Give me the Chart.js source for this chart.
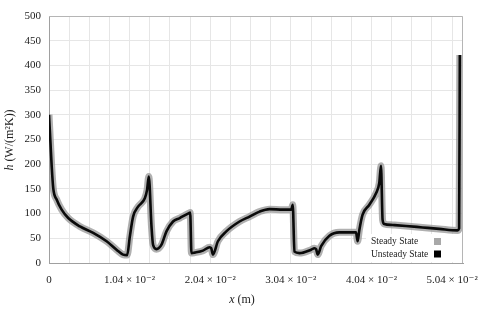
<!DOCTYPE html>
<html>
<head>
<meta charset="utf-8">
<script src="https://cdn.jsdelivr.net/npm/chart.js@4"></script>
<style>
  html, body { margin: 0; padding: 0; background: #fff; }
  #wrap { width: 480px; height: 313px; }
</style>
</head>
<body>
<div id="wrap"><canvas id="hChart" width="480" height="313"></canvas></div>
<script>
// x position along the wall (m)
const xPos = [
    0, 0.0002, 0.00035, 0.00055, 0.001, 0.00163, 0.00248, 0.00399, 0.0057, 0.00743,
    0.00871, 0.00956, 0.01008, 0.01043, 0.01085, 0.01149, 0.01236, 0.01265, 0.01287, 0.01322,
    0.01342, 0.01386, 0.01451, 0.01515, 0.016, 0.01686, 0.01806, 0.01821, 0.01837, 0.01879,
    0.01986, 0.02072, 0.02092, 0.02115, 0.02179, 0.02287, 0.02458, 0.02587, 0.02716, 0.02844,
    0.03016, 0.03124, 0.03144, 0.03166, 0.03231, 0.03381, 0.03424, 0.03445, 0.03466, 0.0351,
    0.03617, 0.03745, 0.0396, 0.03981, 0.04003, 0.04045, 0.04132, 0.04218, 0.0426, 0.04282,
    0.04303, 0.04325, 0.04432, 0.04604, 0.04818, 0.05033, 0.05268, 0.0529, 0.05299
];

// heat transfer coefficient h (W/(m2K))
const steadyH = [
    300, 240, 195, 151, 128, 108, 91, 74, 61, 44,
    27, 17, 16, 54, 94, 114, 131, 148, 175, 74,
    37, 28, 37, 64, 84, 91, 101, 102, 20, 21,
    25, 32, 30, 17, 44, 64, 84, 94, 104, 109,
    108, 108, 118, 23, 20, 27, 30, 28, 17, 34,
    55, 62, 62, 44, 67, 98, 118, 141, 162, 197,
    87, 79, 77, 75, 72, 69, 66, 70, 421
];
const unsteadyH = [
    300, 240, 195, 151, 128, 108, 91, 74, 61, 44,
    27, 17, 16, 54, 94, 114, 131, 148, 175, 74,
    37, 28, 37, 64, 84, 91, 101, 102, 20, 21,
    25, 32, 30, 17, 44, 64, 84, 94, 104, 109,
    108, 108, 118, 23, 20, 27, 30, 28, 17, 34,
    55, 62, 62, 44, 67, 98, 118, 141, 162, 197,
    87, 79, 77, 75, 72, 69, 66, 70, 421
];

const xTickLabels = ['0', '1.04 × 10⁻²', '2.04 × 10⁻²', '3.04 × 10⁻²', '4.04 × 10⁻²', '5.04 × 10⁻²'];
const xGridStep = 0.0026;   // one label on every 4th grid line
const xGridCount = 20;
const seriesNames = ['Steady State', 'Unsteady State'];

const serif = '"Liberation Serif", "DejaVu Serif", serif';

function toPoints(xs, ys) {
    return xs.map((x, i) => ({ x: x, y: ys[i] }));
}

// frame, axis titles and the legend box inside the plot
const extrasPlugin = {
    id: 'extras',
    afterDraw(chart) {
        const c = chart.ctx;
        const a = chart.chartArea;
        c.save();

        // top + right border
        c.strokeStyle = '#b5b5b5';
        c.lineWidth = 1;
        c.beginPath();
        c.moveTo(a.left, a.top + 0.5);
        c.lineTo(a.right - 0.5, a.top + 0.5);
        c.lineTo(a.right - 0.5, a.bottom);
        c.stroke();

        // legend
        c.fillStyle = '#fff';
        c.fillRect(366, 234, a.right - 367, a.bottom - 235);
        c.font = '9.5px ' + serif;
        c.textBaseline = 'middle';
        c.textAlign = 'left';
        const rows = [241.5, 254];
        const swatch = ['#a8a8a8', '#000'];
        chart.data.datasets.forEach((ds, i) => {
            c.fillStyle = '#222';
            c.fillText(ds.label, 371, rows[i]);
            c.fillStyle = swatch[i];
            c.fillRect(434, rows[i] - 3.5, 7, 7);
        });

        // x title: italic x + " (m)"
        c.fillStyle = '#222';
        c.font = 'italic 12px ' + serif;
        const xw = c.measureText('x').width;
        c.font = '12px ' + serif;
        const rw = c.measureText(' (m)').width;
        let sx = 242 - (xw + rw) / 2;
        c.font = 'italic 12px ' + serif;
        c.fillText('x', sx, 300);
        c.font = '12px ' + serif;
        c.fillText(' (m)', sx + xw, 300);

        // y title, rotated: italic h + " (W/(m²K))"
        c.translate(10, 140);
        c.rotate(-Math.PI / 2);
        c.font = 'italic 12px ' + serif;
        const hw = c.measureText('h').width;
        c.font = '12px ' + serif;
        const tw = c.measureText(' (W/(m²K))').width;
        sx = -(hw + tw) / 2;
        c.font = 'italic 12px ' + serif;
        c.fillText('h', sx, 0);
        c.font = '12px ' + serif;
        c.fillText(' (W/(m²K))', sx + hw, 0);

        c.restore();
    }
};

const ctx = document.getElementById('hChart').getContext('2d');
new Chart(ctx, {
    type: 'line',
    data: {
        datasets: [{
            label: seriesNames[0],
            data: toPoints(xPos, steadyH),
            borderColor: 'rgba(150, 150, 150, 0.75)',
            borderWidth: 7,
            pointRadius: 0,
            cubicInterpolationMode: 'monotone',
            order: 1
        }, {
            label: seriesNames[1],
            data: toPoints(xPos, unsteadyH),
            borderColor: '#0a0a0a',
            borderWidth: 2.6,
            pointRadius: 0,
            cubicInterpolationMode: 'monotone',
            order: 0
        }]
    },
    options: {
        responsive: false,
        animation: false,
        layout: { padding: { left: 0, right: 17, top: 16, bottom: 0 } },
        plugins: {
            legend: { display: false },
            tooltip: { enabled: false }
        },
        scales: {
            x: {
                type: 'linear',
                min: 0,
                max: 0.0534,
                afterFit: (scale) => {
                    scale.height = 50;
                    scale.paddingLeft = 0;
                    scale.paddingRight = 0;
                },
                afterBuildTicks: (scale) => {
                    const t = [];
                    for (let i = 0; i <= xGridCount; i++) t.push({ value: i * xGridStep });
                    scale.ticks = t;
                },
                grid: { color: '#e6e6e6', drawTicks: false },
                border: { color: '#a0a0a0' },
                ticks: {
                    autoSkip: false,
                    maxRotation: 0,
                    padding: 11,
                    color: '#222',
                    font: { family: serif, size: 11 },
                    callback: (v, i) => (i % 4 === 0 ? xTickLabels[i / 4] : '')
                }
            },
            y: {
                min: 0,
                max: 500,
                afterFit: (scale) => { scale.width = 49; },
                grid: { color: '#e6e6e6', drawTicks: false },
                border: { color: '#a0a0a0' },
                ticks: {
                    stepSize: 50,
                    padding: 8,
                    color: '#222',
                    font: { family: serif, size: 11 }
                }
            }
        }
    },
    plugins: [extrasPlugin]
});
</script>
</body>
</html>
